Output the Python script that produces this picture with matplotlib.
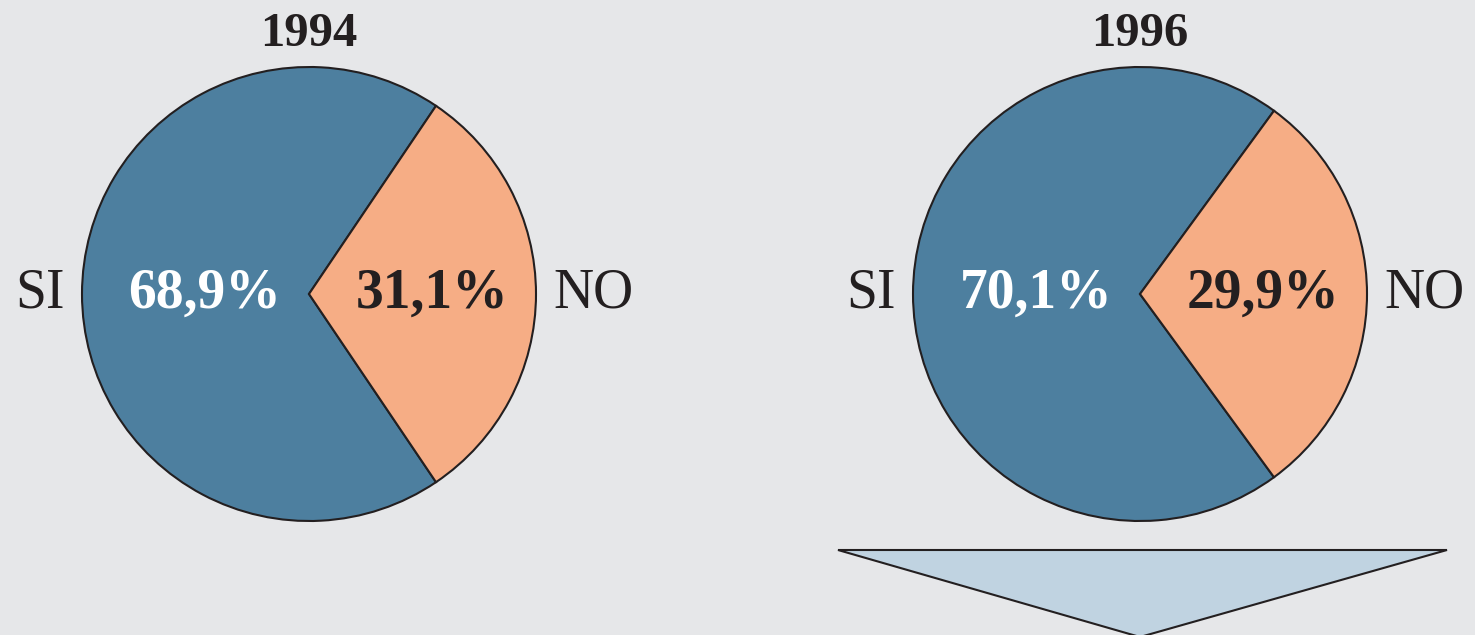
import matplotlib
matplotlib.use("Agg")
import matplotlib.pyplot as plt
from matplotlib.patches import Polygon

# Survey results: share answering SI / NO in each year
years = ["1994", "1996"]
categories = ["SI", "NO"]
si_values = [68.9, 70.1]
no_values = [31.1, 29.9]

BG = "#e6e7e9"
BLUE = "#4d7f9f"
ORANGE = "#f6ad85"
ARROW = "#c0d3e1"
INK = "#231f20"
SERIF = ["Liberation Serif", "DejaVu Serif"]

W, H = 1475, 635
fig = plt.figure(figsize=(W / 100, H / 100), dpi=100, facecolor=BG)
ax = fig.add_axes([0, 0, 1, 1])
ax.set_facecolor(BG)
ax.set_xlim(0, W)
ax.set_ylim(0, H)
ax.set_aspect("equal")
ax.axis("off")

centers_x = [309, 1140]
center_y = H - 294
radius = 227

def fmt(v):
    return f"{v:.1f}".replace(".", ",") + "%"

for year, si, no, cx in zip(years, si_values, no_values, centers_x):
    vals = [si, no]
    start = no * 3.6 / 2  # keeps the NO slice centred on the right-hand side
    ax.pie(vals, colors=[BLUE, ORANGE], startangle=start, counterclock=True,
           center=(cx, center_y), radius=radius, frame=True,
           wedgeprops=dict(edgecolor=INK, linewidth=1.5))
    # year heading
    ax.text(cx, H - 34, year, ha="center", va="center", family=SERIF,
            fontsize=35, fontweight="bold", color=INK)
    # category names outside the pie
    ax.text(cx - radius - 17, center_y, categories[0], ha="right", va="center",
            family=SERIF, fontsize=40, color=INK)
    ax.text(cx + radius + 17, center_y, categories[1], ha="left", va="center",
            family=SERIF, fontsize=40, color=INK)
    # percentages inside the slices
    ax.text(cx - 104, center_y, fmt(si), ha="center", va="center",
            family=SERIF, fontsize=40, fontweight="bold", color="white")
    ax.text(cx + 123, center_y, fmt(no), ha="center", va="center",
            family=SERIF, fontsize=40, fontweight="bold", color=INK)

ax.set_xlim(0, W)
ax.set_ylim(0, H)
ax.axis("off")

# downward arrow under the second pie
tri = Polygon([(838, H - 550), (1447, H - 550), (1140, H - 637)], closed=True,
              facecolor=ARROW, edgecolor=INK, linewidth=1.5, clip_on=False)
ax.add_patch(tri)

fig.savefig("out.png", dpi=100, facecolor=BG)
